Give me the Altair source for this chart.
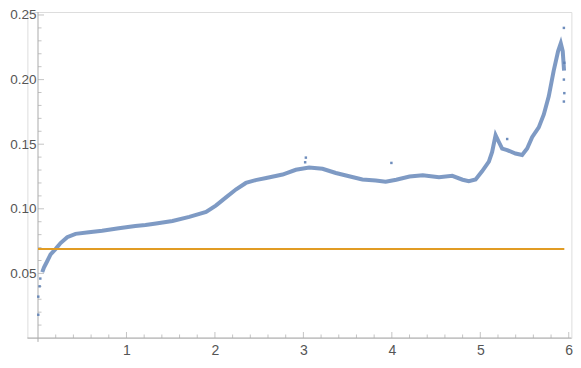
import altair as alt
import pandas as pd

# Main band of the data
band_x = [0.048, 0.067, 0.105, 0.142, 0.20, 0.255, 0.33, 0.424, 0.575, 0.725, 0.913, 1.10,
          1.215, 1.335, 1.52, 1.71, 1.90, 2.01, 2.125, 2.24, 2.35, 2.46, 2.58, 2.765, 2.915,
          3.065, 3.216, 3.367, 3.517, 3.667, 3.818, 3.93, 4.05, 4.2, 4.35, 4.533, 4.683, 4.80,
          4.87, 4.947, 5.02, 5.097, 5.134, 5.173, 5.21, 5.247, 5.304, 5.398, 5.473, 5.53,
          5.586, 5.661, 5.718, 5.774, 5.83, 5.88, 5.91, 5.932, 5.947]
band_y = [0.051, 0.0546, 0.0596, 0.0647, 0.069, 0.0735, 0.078, 0.0806, 0.0818, 0.083, 0.0849, 0.0866,
          0.0874, 0.0886, 0.0906, 0.0937, 0.0975, 0.1025, 0.1088, 0.1151, 0.120, 0.1222, 0.1238, 0.1265, 0.1302,
          0.132, 0.131, 0.1277, 0.1252, 0.1227, 0.1219, 0.1209, 0.1225, 0.125, 0.126, 0.1245, 0.1255, 0.1225,
          0.1214, 0.1227, 0.129, 0.1365, 0.144, 0.157, 0.1517, 0.1466, 0.1454, 0.1428, 0.1416, 0.1466,
          0.1554, 0.163, 0.173, 0.187, 0.207, 0.222, 0.228, 0.222, 0.207]

# Sparse / stray points
stray_x = [0.003, 0.003, 0.018, 0.026, 3.028, 3.02, 3.995, 5.304, 5.945, 5.95, 5.945, 5.945, 5.95]
stray_y = [0.018, 0.032, 0.040, 0.046, 0.1396, 0.136, 0.1355, 0.154, 0.240, 0.1895, 0.183, 0.200, 0.213]

# Reference level
level_y = 0.0688
level_x0, level_x1 = 0.0, 5.95

# Axis ticks
x_major = [1, 2, 3, 4, 5, 6]
x_minor = [0.2, 0.4, 0.6, 0.8, 1.2, 1.4, 1.6, 1.8, 2.2, 2.4, 2.6, 2.8, 3.2, 3.4, 3.6, 3.8,
           4.2, 4.4, 4.6, 4.8, 5.2, 5.4, 5.6, 5.8]
y_major = [0.05, 0.10, 0.15, 0.20, 0.25]
y_minor = [0.01, 0.02, 0.03, 0.04, 0.06, 0.07, 0.08, 0.09, 0.11, 0.12, 0.13, 0.14,
           0.16, 0.17, 0.18, 0.19, 0.21, 0.22, 0.23, 0.24]

X_DOM = [-0.12, 6.03]
Y_DOM = [0.0, 0.25231]
W, H = 544.0, 326.0
BLUE = "#5E81B5"
ORANGE = "#E19C24"
AXC = "#ababab"
LABC = "#555555"
FONT = "Liberation Sans"

xs = alt.Scale(domain=X_DOM, nice=False, zero=False)
ys = alt.Scale(domain=Y_DOM, nice=False, zero=False)

x_axis = alt.Axis(values=x_major, format="d", domain=False, ticks=False, tickSize=0, grid=False,
                  labelFont=FONT, labelFontSize=14, labelColor=LABC, labelPadding=5)
y_axis = alt.Axis(values=y_major, format=".2f", domain=False, ticks=False, tickSize=0, grid=False,
                  labelFont=FONT, labelFontSize=13.5, labelColor=LABC, labelPadding=2,
                  offset=-(0.12 * W / (X_DOM[1] - X_DOM[0])))

band = pd.DataFrame({"x": band_x, "y": band_y})
stray = pd.DataFrame({"x": stray_x, "y": stray_y})
level = pd.DataFrame({"x": [level_x0], "x2": [level_x1], "y": [level_y]})

base_axes = alt.Chart(band).mark_line(opacity=0).encode(
    x=alt.X("x:Q", scale=xs, axis=x_axis, title=""),
    y=alt.Y("y:Q", scale=ys, axis=y_axis, title=""),
)

xline = alt.Chart(pd.DataFrame({"x": [X_DOM[0]], "x2": [X_DOM[1]], "y": [0.0]})).mark_rule(
    color=AXC, strokeWidth=1).encode(x=alt.X("x:Q", scale=xs), x2="x2:Q", y=alt.Y("y:Q", scale=ys))
yline = alt.Chart(pd.DataFrame({"x": [0.0], "y": [-0.003], "y2": [Y_DOM[1]]})).mark_rule(
    color=AXC, strokeWidth=1).encode(x=alt.X("x:Q", scale=xs), y=alt.Y("y:Q", scale=ys), y2="y2:Q")

xt_major = alt.Chart(pd.DataFrame({"x": x_major, "y": 0.0})).mark_tick(
    orient="vertical", size=6, thickness=1, yOffset=-3, color=AXC).encode(
    x=alt.X("x:Q", scale=xs), y=alt.Y("y:Q", scale=ys))
xt_minor = alt.Chart(pd.DataFrame({"x": x_minor, "y": 0.0})).mark_tick(
    orient="vertical", size=3.5, thickness=1, yOffset=-1.75, color=AXC).encode(
    x=alt.X("x:Q", scale=xs), y=alt.Y("y:Q", scale=ys))
yt_major = alt.Chart(pd.DataFrame({"y": y_major, "x": 0.0})).mark_tick(
    orient="horizontal", size=6, thickness=1, xOffset=3, color=AXC).encode(
    x=alt.X("x:Q", scale=xs), y=alt.Y("y:Q", scale=ys))
yt_minor = alt.Chart(pd.DataFrame({"y": y_minor, "x": 0.0})).mark_tick(
    orient="horizontal", size=3.5, thickness=1, xOffset=1.75, color=AXC).encode(
    x=alt.X("x:Q", scale=xs), y=alt.Y("y:Q", scale=ys))

band_line = alt.Chart(band).mark_line(color=BLUE, strokeWidth=4, opacity=0.8).encode(
    x=alt.X("x:Q", scale=xs), y=alt.Y("y:Q", scale=ys), order="x:Q")
stray_pts = alt.Chart(stray).mark_square(color=BLUE, size=6, opacity=0.9).encode(
    x=alt.X("x:Q", scale=xs), y=alt.Y("y:Q", scale=ys))
level_line = alt.Chart(level).mark_rule(color=ORANGE, strokeWidth=2).encode(
    x=alt.X("x:Q", scale=xs), x2="x2:Q", y=alt.Y("y:Q", scale=ys))

chart = alt.layer(
    base_axes, xline, yline, xt_major, xt_minor, yt_major, yt_minor,
    band_line, stray_pts, level_line
).properties(
    width=W, height=H,
    autosize=alt.AutoSizeParams(type="none"),
    padding={"left": 19.4, "top": 4, "right": 1.6, "bottom": 18},
).configure_view(stroke=None).configure(background="white")

chart.save("out.html", embed_options={"renderer": "svg", "actions": False})
